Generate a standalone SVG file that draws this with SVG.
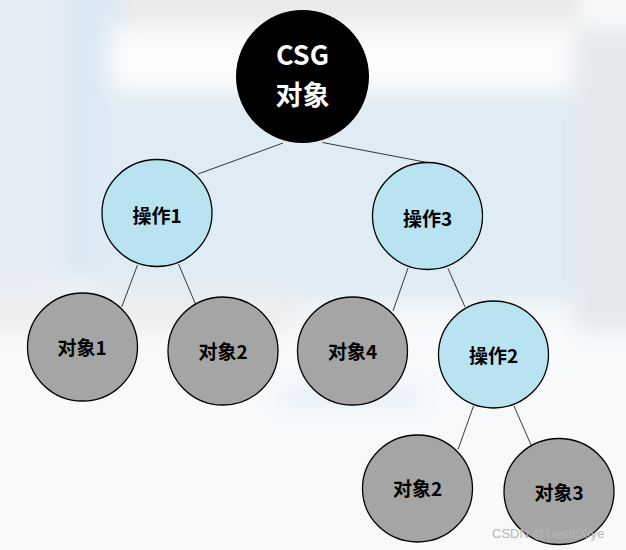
<svg xmlns="http://www.w3.org/2000/svg" width="626" height="550" viewBox="0 0 626 550">
<defs>
<filter id="blur" filterUnits="userSpaceOnUse" x="-100" y="-100" width="826" height="750"><feGaussianBlur stdDeviation="10"/></filter>
<style>
.op{fill:#b9e3f0;stroke:#000;stroke-width:1.3}
.ob{fill:#a5a5a5;stroke:#000;stroke-width:1.3}
.lbl{font-family:"Noto Sans CJK SC","Microsoft YaHei",sans-serif;font-weight:bold;font-size:19px;fill:#000;text-anchor:middle;dominant-baseline:central}
.root-t{font-family:"Noto Sans CJK SC","Microsoft YaHei",sans-serif;font-weight:bold;font-size:27px;fill:#fff;text-anchor:middle}
.edge{stroke:#222;stroke-width:0.9;fill:none}
.wm{font-family:"Liberation Sans",Arial,sans-serif;font-size:13px;fill:#b4b7ba}
</style>
</defs>
<g id="background">
<rect width="626" height="550" fill="#f6f8fa"/>
<g filter="url(#blur)">
<rect x="-40" y="-40" width="100" height="340" fill="#e6edf5"/>
<rect x="60" y="-40" width="60" height="320" fill="#dbe9f4"/>
<rect x="120" y="-40" width="460" height="65" fill="#e9eaea"/>
<rect x="110" y="28" width="470" height="62" fill="#fafbfb"/>
<rect x="100" y="92" width="500" height="210" fill="#dfebf5"/>
<rect x="575" y="30" width="90" height="390" fill="#e4e8ec"/>
<rect x="-40" y="290" width="340" height="40" fill="#eceef0"/>
<rect x="520" y="330" width="140" height="90" fill="#e4e7ea"/>
<rect x="-40" y="330" width="700" height="260" fill="#f7f9fb"/>
<rect x="280" y="390" width="140" height="14" fill="#dfeef6"/>
</g>
</g>
<g id="connectors">
<line class="edge" x1="283" y1="143" x2="198" y2="174"/>
<line class="edge" x1="322.5" y1="142.5" x2="430" y2="163"/>
<line class="edge" x1="137.5" y1="265" x2="121.7" y2="307"/>
<line class="edge" x1="178.5" y1="264" x2="195.5" y2="304"/>
<line class="edge" x1="408" y1="268" x2="393" y2="311"/>
<line class="edge" x1="448" y1="268.5" x2="465" y2="307"/>
<line class="edge" x1="473.5" y1="406" x2="458" y2="449.5"/>
<line class="edge" x1="514" y1="406" x2="531.5" y2="446"/>
</g>
<g id="root">
<circle cx="302.5" cy="76.5" r="66.5" fill="#000"/>
<text class="root-t" x="302.5" y="65">CSG</text>
<text class="root-t" x="302.5" y="105">对象</text>
</g>
<g id="op1">
<ellipse class="op" cx="157" cy="213" rx="55" ry="53.5"/>
<text class="lbl" x="157" y="214">操作1</text>
</g>
<g id="op3">
<ellipse class="op" cx="427.5" cy="216" rx="55" ry="53.5"/>
<text class="lbl" x="427.5" y="217">操作3</text>
</g>
<g id="obj1">
<ellipse class="ob" cx="82.5" cy="347" rx="55" ry="54"/>
<text class="lbl" x="82" y="346">对象1</text>
</g>
<g id="obj2a">
<ellipse class="ob" cx="223" cy="351" rx="55" ry="54"/>
<text class="lbl" x="223" y="350">对象2</text>
</g>
<g id="obj4">
<ellipse class="ob" cx="352.5" cy="351" rx="55" ry="54"/>
<text class="lbl" x="352.5" y="350">对象4</text>
</g>
<g id="op2">
<ellipse class="op" cx="493.5" cy="354.5" rx="55" ry="53.5"/>
<text class="lbl" x="493.5" y="354">操作2</text>
</g>
<g id="obj2b">
<ellipse class="ob" cx="417.5" cy="488.5" rx="55" ry="53.5"/>
<text class="lbl" x="417.5" y="487">对象2</text>
</g>
<g id="obj3">
<ellipse class="ob" cx="559" cy="491.5" rx="55" ry="53"/>
<text class="lbl" x="559" y="491">对象3</text>
</g>
<text class="wm" x="492" y="538">CSDN @UestcXiye</text>
</svg>
